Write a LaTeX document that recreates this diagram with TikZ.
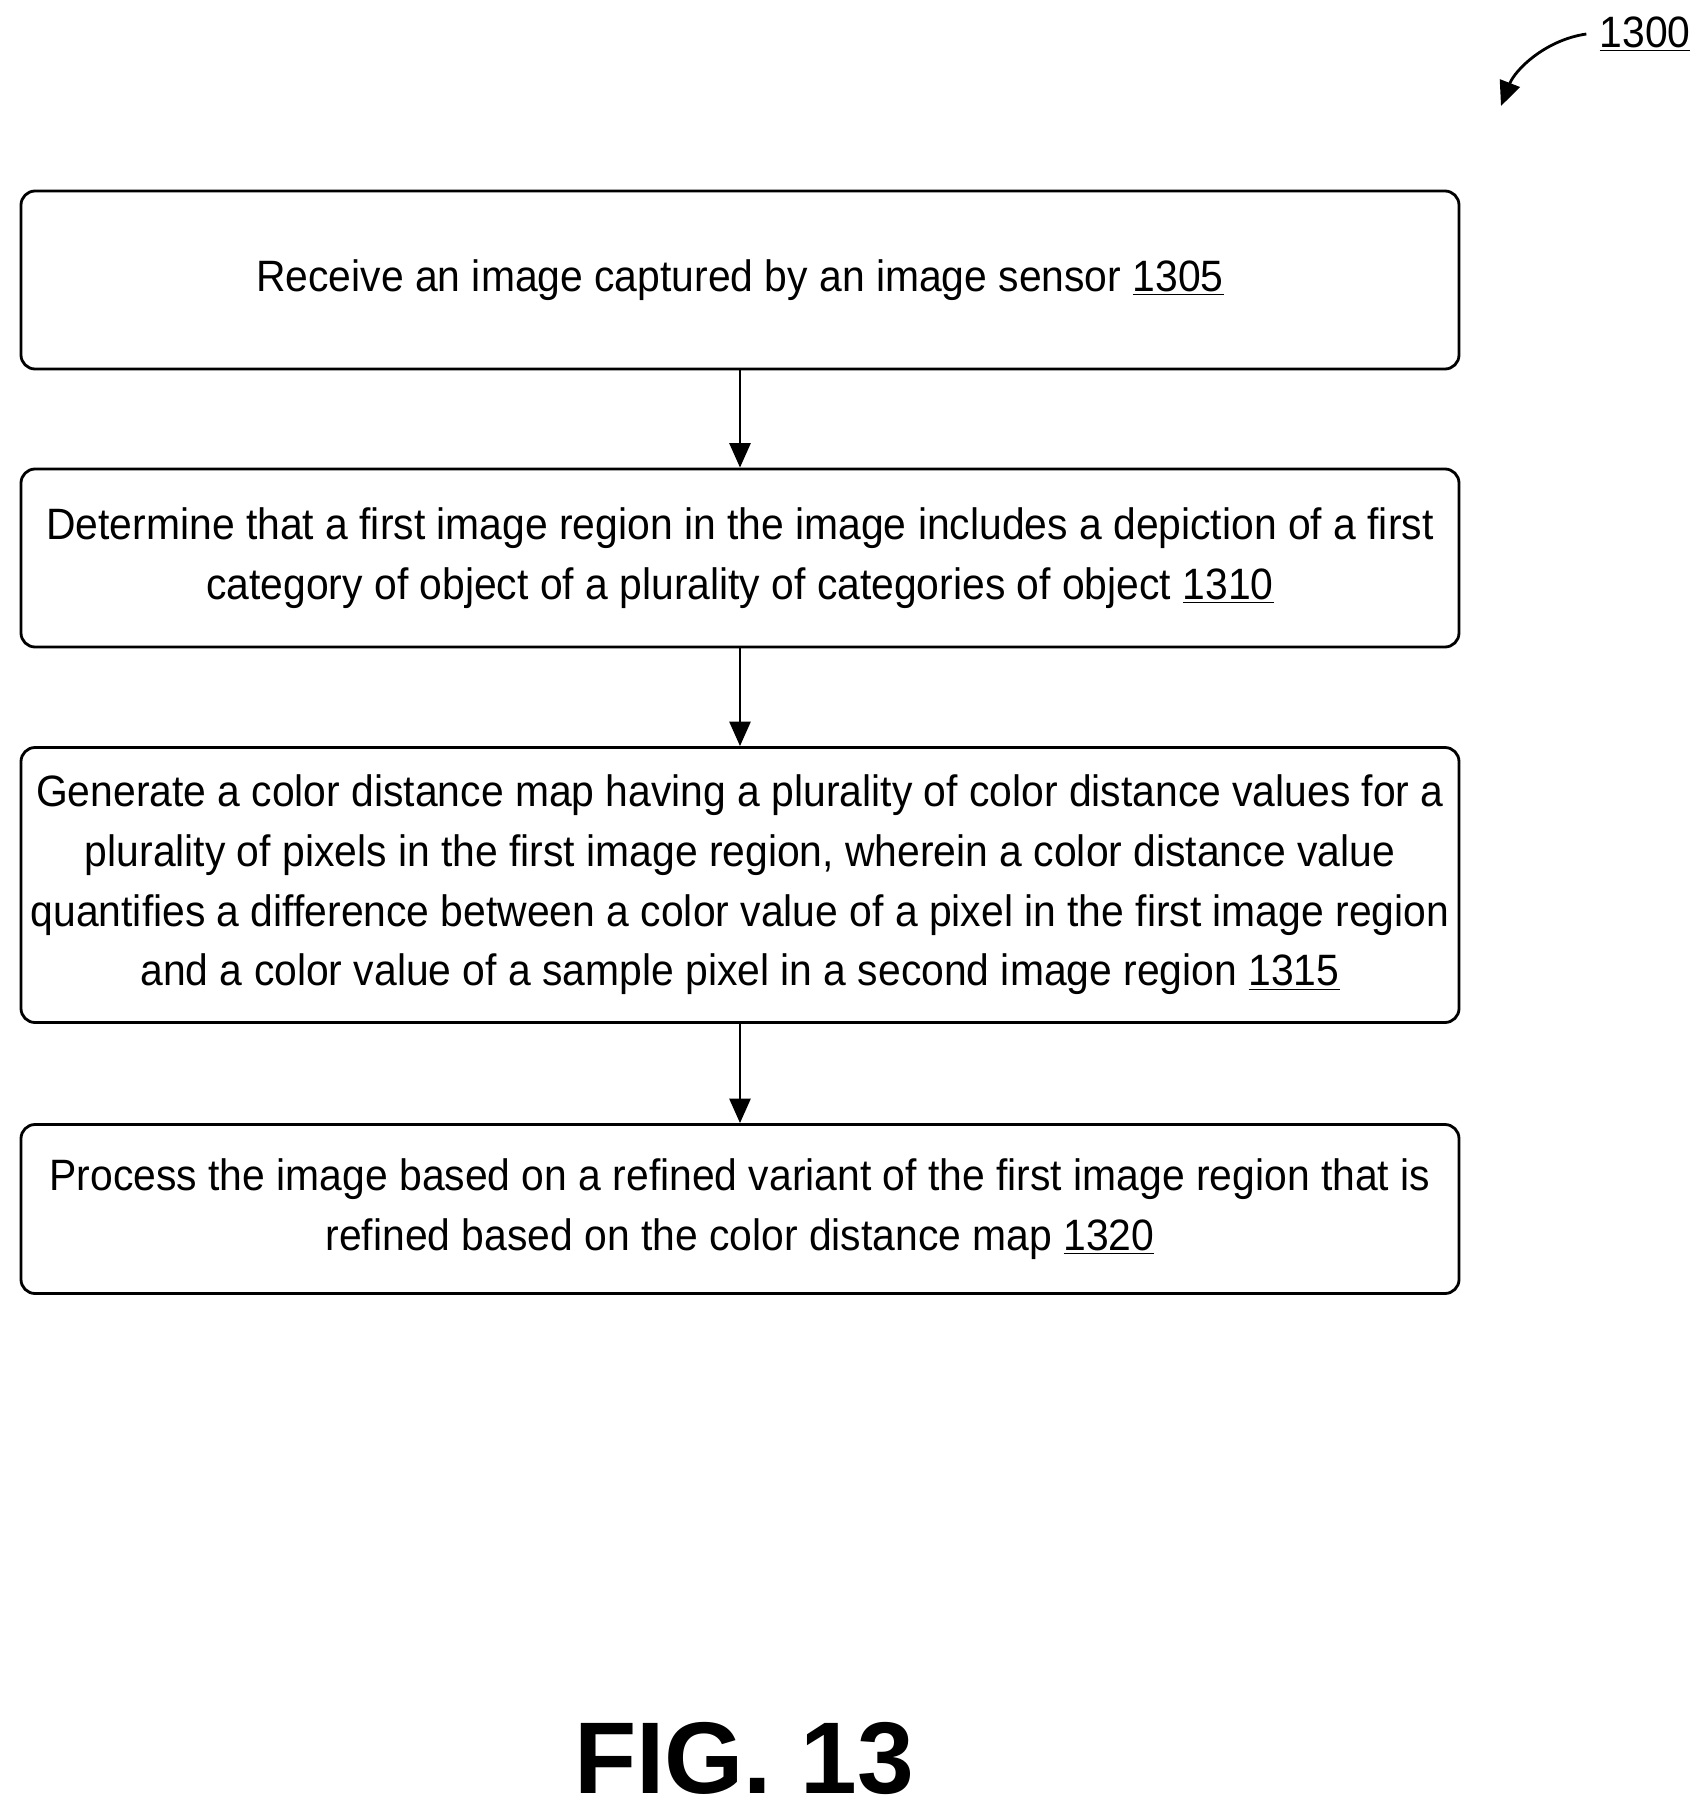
\documentclass[tikz,border=0pt]{standalone}
\usepackage{fontspec}
\setmainfont{Liberation Sans}[FakeStretch=0.93]
\newfontfamily\figfont{Liberation Sans}
\usetikzlibrary{arrows.meta,positioning}
\begin{document}
\begin{tikzpicture}[x=0.02cm,y=-0.02cm,
  every node/.style={align=center,font=\fontsize{25}{34}\selectfont},%
  stepbox/.style={draw,line width=1.6pt,rounded corners=8pt,minimum width=1438*0.02cm,inner sep=0pt},%
  e/.style={-{Triangle[length=14pt,width=12pt]},line width=1.6pt},%
  ]
  \useasboundingbox (0,0) rectangle (1707,1812);
  \node (s1) [stepbox,minimum height=178*0.02cm] at (740,280) {Receive an image captured by an image sensor \underline{1305}};
  \node (s2) [stepbox,minimum height=178*0.02cm] at (740,558) {Determine that a first image region in the image includes a depiction of a first\\category of object of a plurality of categories of object \underline{1310}};
  \node (s3) [stepbox,minimum height=275*0.02cm] at (740,885) {Generate a color distance map having a plurality of color distance values for a\\plurality of pixels in the first image region, wherein a color distance value\\quantifies a difference between a color value of a pixel in the first image region\\and a color value of a sample pixel in a second image region \underline{1315}};
  \node (s4) [stepbox,minimum height=169*0.02cm] at (740,1209) {Process the image based on a refined variant of the first image region that is\\refined based on the color distance map \underline{1320}};
  \draw [e] (s1) -- (s2);
  \draw [e] (s2) -- (s3);
  \draw [e] (s3) -- (s4);
  \node (fig) at (744,1758) {\figfont\fontsize{58}{60}\selectfont\bfseries FIG. 13};
  \node (lbl) at (1645,34) {\underline{1300}};
  \coordinate (tip) at (1501,106);
  \draw [e] ([xshift=-4pt]lbl.west) .. controls (1545,40) and (1515,70) .. (tip);
\end{tikzpicture}
\end{document}
